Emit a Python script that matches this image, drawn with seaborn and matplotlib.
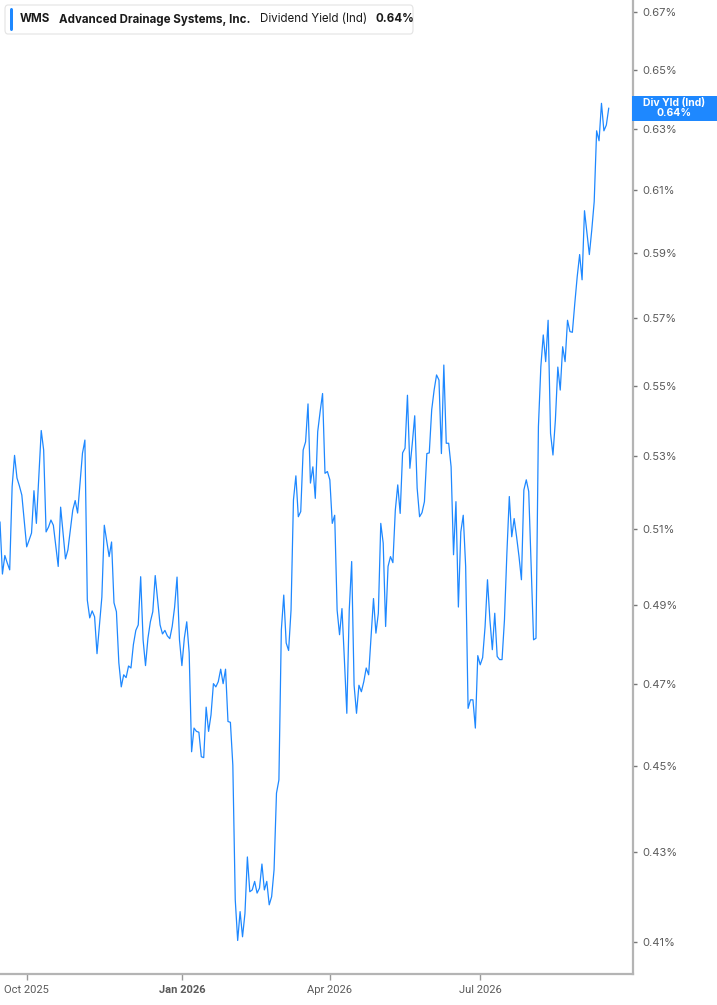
import numpy as np
import pandas as pd
import matplotlib
matplotlib.use("Agg")
import matplotlib.pyplot as plt
import seaborn as sns
from matplotlib.patches import FancyBboxPatch, Rectangle
from matplotlib.ticker import NullLocator

# dividend yield (%) per trading day, 2025-09-16 .. 2026-09-16
div_yield = [
    0.5119, 0.4980, 0.5029, 0.5009, 0.4991, 0.5215, 0.5302, 0.5239, 0.5217, 0.5192,
    0.5121, 0.5052, 0.5070, 0.5089, 0.5204, 0.5115, 0.5242, 0.5372, 0.5317, 0.5092,
    0.5105, 0.5124, 0.5110, 0.5054, 0.5000, 0.5159, 0.5089, 0.5020, 0.5044, 0.5097,
    0.5151, 0.5177, 0.5143, 0.5225, 0.5308, 0.5345, 0.4912, 0.4866, 0.4884, 0.4869,
    0.4775, 0.4848, 0.4920, 0.5110, 0.5068, 0.5026, 0.5065, 0.4905, 0.4882, 0.4752,
    0.4692, 0.4722, 0.4715, 0.4744, 0.4739, 0.4798, 0.4834, 0.4848, 0.4973, 0.4810,
    0.4745, 0.4814, 0.4856, 0.4882, 0.4976, 0.4912, 0.4848, 0.4825, 0.4834, 0.4820,
    0.4813, 0.4844, 0.4894, 0.4972, 0.4810, 0.4745, 0.4814, 0.4856, 0.4777, 0.4534,
    0.4591, 0.4583, 0.4581, 0.4522, 0.4520, 0.4642, 0.4583, 0.4623, 0.4700, 0.4692,
    0.4705, 0.4736, 0.4700, 0.4736, 0.4607, 0.4605, 0.4502, 0.4193, 0.4104, 0.4167,
    0.4112, 0.4163, 0.4289, 0.4211, 0.4215, 0.4234, 0.4208, 0.4219, 0.4273, 0.4215,
    0.4234, 0.4182, 0.4200, 0.4260, 0.4436, 0.4467, 0.4835, 0.4925, 0.4802, 0.4783,
    0.4886, 0.5179, 0.5245, 0.5133, 0.5147, 0.5317, 0.5340, 0.5448, 0.5225, 0.5270,
    0.5183, 0.5369, 0.5426, 0.5478, 0.5252, 0.5257, 0.5234, 0.5115, 0.5137, 0.4886,
    0.4823, 0.4890, 0.4760, 0.4627, 0.4886, 0.5013, 0.4696, 0.4627, 0.4696, 0.4680,
    0.4705, 0.4739, 0.4722, 0.4819, 0.4916, 0.4827, 0.4878, 0.5115, 0.5062, 0.4844,
    0.5000, 0.5026, 0.5010, 0.5151, 0.5220, 0.5142, 0.5309, 0.5322, 0.5473, 0.5266,
    0.5336, 0.5414, 0.5211, 0.5133, 0.5144, 0.5174, 0.5307, 0.5309, 0.5431, 0.5488,
    0.5532, 0.5517, 0.5307, 0.5561, 0.5336, 0.5336, 0.5270, 0.5031, 0.5174, 0.4894,
    0.5092, 0.5137, 0.5000, 0.4639, 0.4660, 0.4660, 0.4591, 0.4770, 0.4747, 0.4765,
    0.4843, 0.4965, 0.4861, 0.4785, 0.4878, 0.4768, 0.4760, 0.4760, 0.4861, 0.5035,
    0.5188, 0.5079, 0.5128, 0.5079, 0.5026, 0.4965, 0.5206, 0.5234, 0.5202, 0.5000,
    0.4810, 0.4814, 0.5383, 0.5556, 0.5650, 0.5571, 0.5694, 0.5364, 0.5303, 0.5402,
    0.5555, 0.5488, 0.5615, 0.5571, 0.5694, 0.5660, 0.5658, 0.5745, 0.5827, 0.5895,
    0.5817, 0.6033, 0.5962, 0.5895, 0.5972, 0.6062, 0.6293, 0.6260, 0.6385, 0.6293,
    0.6312, 0.6369,
]

holidays = ["2025-11-27", "2025-12-25", "2026-01-01", "2026-01-19", "2026-02-16",
            "2026-04-03", "2026-05-25", "2026-06-19", "2026-07-03", "2026-09-07"]
y_ticks = [0.41, 0.43, 0.45, 0.47, 0.49, 0.51, 0.53, 0.55, 0.57, 0.59, 0.61, 0.63, 0.65, 0.67]

ticker = "WMS"
company = "Advanced Drainage Systems, Inc."
metric = "Dividend Yield (Ind)"
short_metric = "Div Yld (Ind)"

dates = pd.bdate_range("2025-09-16", "2026-09-16").drop(pd.to_datetime(holidays))
dates = dates[:len(div_yield)]
df = pd.DataFrame({"day": np.arange(len(div_yield)), "yield": div_yield})

blue = "#1e88ff"
W, H = 717, 1005

sns.set_style("white")
plt.rcParams["font.family"] = ["Inter", "DejaVu Sans"]

fig = plt.figure(figsize=(W / 100, H / 100), dpi=100)
ax = fig.add_axes([0, 31 / H, 633 / W, 1 - 31 / H])

sns.lineplot(data=df, x="day", y="yield", ax=ax, color=blue, lw=0.9)

ax.set_yscale("log")
ax.set_ylim(0.4032, 0.6743)
ax.set_xlim(0, 261)
ax.yaxis.tick_right()
ax.set_yticks(y_ticks)
ax.set_yticklabels([f"{t:.2f}%" for t in y_ticks])
ax.yaxis.set_minor_locator(NullLocator())
ax.set_xlabel("")
ax.set_ylabel("")

# quarter starts on the trading-day axis
qpos, qlab = [], []
for i in range(1, len(dates)):
    if dates[i].month != dates[i - 1].month and dates[i].month in (1, 4, 7, 10):
        qpos.append(i)
        qlab.append(dates[i].strftime("%b %Y"))
ax.set_xticks(qpos)
ax.set_xticklabels(qlab)
for lab in ax.get_xticklabels():
    lab.set_fontfamily(["Roboto", "DejaVu Sans"])
    if lab.get_text().startswith("Jan"):
        lab.set_fontweight("bold")

for s in ["top", "left"]:
    ax.spines[s].set_visible(False)
for s in ["right", "bottom"]:
    ax.spines[s].set_color("#b4b4b4")
    ax.spines[s].set_linewidth(1.6)

ax.tick_params(axis="y", which="major", right=True, length=3, width=1, color="#777777",
               pad=4, labelsize=8, labelcolor="#5a5a5a")
ax.tick_params(axis="x", which="major", bottom=True, length=4, width=1, color="#999999",
               pad=4, labelsize=8, labelcolor="#5a5a5a")

# header box
fig.patches.append(FancyBboxPatch((5 / W, 1 - 34 / H), 408 / W, 29 / H,
                                  boxstyle="round,pad=0,rounding_size=0.004",
                                  transform=fig.transFigure, fc="white", ec="#e3e3e3", lw=0.8))
fig.patches.append(FancyBboxPatch((10 / W, 1 - 31 / H), 3 / W, 23 / H,
                                  boxstyle="round,pad=0,rounding_size=0.002",
                                  transform=fig.transFigure, fc=blue, ec="none"))

fig.canvas.draw()
renderer = fig.canvas.get_renderer()
xpos = 20
yc = 1 - 19.5 / H
parts = [(ticker, "bold"), (company, "bold"), (metric, "normal"), (f"{div_yield[-1]:.2f}%", "bold")]
for txt, wt in parts:
    t = fig.text(xpos / W, yc, txt, fontsize=8.3, fontweight=wt, color="#1a1a1a",
                 va="center", ha="left")
    bb = t.get_window_extent(renderer)
    xpos += bb.width + 9

# last value tag on the right axis
y_last = ax.transData.transform((0, div_yield[-1]))[1]
fig.patches.append(Rectangle((632 / W, (y_last - 12.5) / H), 85 / W, 25 / H,
                             transform=fig.transFigure, fc=blue, ec="none"))
fig.text(674.5 / W, y_last / H, f"{short_metric}\n{div_yield[-1]:.2f}%", color="white",
         fontsize=7.5, fontweight="bold", ha="center", va="center", linespacing=1.0)

fig.savefig("out.png", dpi=100)
